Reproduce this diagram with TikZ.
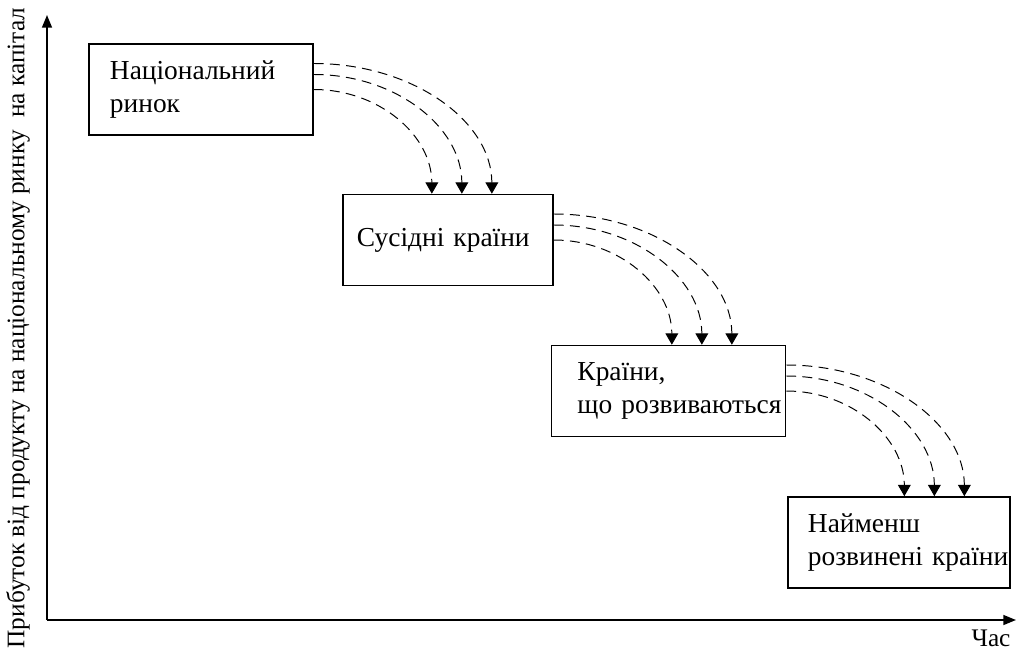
\documentclass[tikz,border=0pt]{standalone}
\usepackage{fontspec}
\setmainfont{Liberation Serif}
\usetikzlibrary{arrows.meta}

\begin{document}
\begin{tikzpicture}[
  x=0.025cm, y=-0.025cm,
  stage/.style={draw,line width=1.1pt,rectangle,align=left,text width=4.55cm,minimum height=2.275cm,font=\fontsize{19.5}{24}\selectfont},
  flow/.style={line width=0.7pt,dash pattern=on 7pt off 4.5pt,-{Triangle[width=9pt,length=8pt]}},
  axis/.style={line width=1.3pt,-{Triangle[width=7pt,length=9pt]}},
  axlabel/.style={font=\fontsize{18}{22}\selectfont,inner sep=0pt}
]
  \useasboundingbox (0,0) rectangle (1017,651);
  \coordinate (o) at (47,620);
  \coordinate (ytop) at (47,15);
  \coordinate (xend) at (1016,620);
  \node[stage,inner xsep=0.525cm] (b1) at (201,89.5) {Національний\\ринок};
  \node[stage,inner xsep=0.35cm] (b2) at (448,240) {Сусідні~країни};
  \node[stage,inner xsep=0.65cm] (b3) at (668.5,391) {Країни,\\що~розвиваються};
  \node[stage,inner xsep=0.5cm] (b4) at (899,542.5) {Найменш\\розвинені~країни};
  \node[axlabel,rotate=90] (ylab) at (18,328) {Прибуток від продукту на національному ринку\ \ на капітал};
  \node[axlabel] (tlab) at (991,638) {Час};
  \draw[axis] (o) -- (ytop);
  \draw[axis] (o) -- (xend);
  \draw[flow] ([yshift=0.65cm]b1.east) .. controls +(2.46cm,0) and +(0,1.82cm) .. ([xshift=4.45cm]b1.east |- b2.north);
  \draw[flow] ([yshift=0.375cm]b1.east) .. controls +(2.04cm,0) and +(0,1.67cm) .. ([xshift=3.7cm]b1.east |- b2.north);
  \draw[flow] (b1.east) .. controls +(1.63cm,0) and +(0,1.46cm) .. ([xshift=2.95cm]b1.east |- b2.north);
  \draw[flow] ([yshift=0.65cm]b2.east) .. controls +(2.46cm,0) and +(0,1.82cm) .. ([xshift=4.45cm]b2.east |- b3.north);
  \draw[flow] ([yshift=0.375cm]b2.east) .. controls +(2.04cm,0) and +(0,1.67cm) .. ([xshift=3.7cm]b2.east |- b3.north);
  \draw[flow] (b2.east) .. controls +(1.63cm,0) and +(0,1.46cm) .. ([xshift=2.95cm]b2.east |- b3.north);
  \draw[flow] ([yshift=0.65cm]b3.east) .. controls +(2.46cm,0) and +(0,1.82cm) .. ([xshift=4.45cm]b3.east |- b4.north);
  \draw[flow] ([yshift=0.375cm]b3.east) .. controls +(2.04cm,0) and +(0,1.67cm) .. ([xshift=3.7cm]b3.east |- b4.north);
  \draw[flow] (b3.east) .. controls +(1.63cm,0) and +(0,1.46cm) .. ([xshift=2.95cm]b3.east |- b4.north);
\end{tikzpicture}
\end{document}
